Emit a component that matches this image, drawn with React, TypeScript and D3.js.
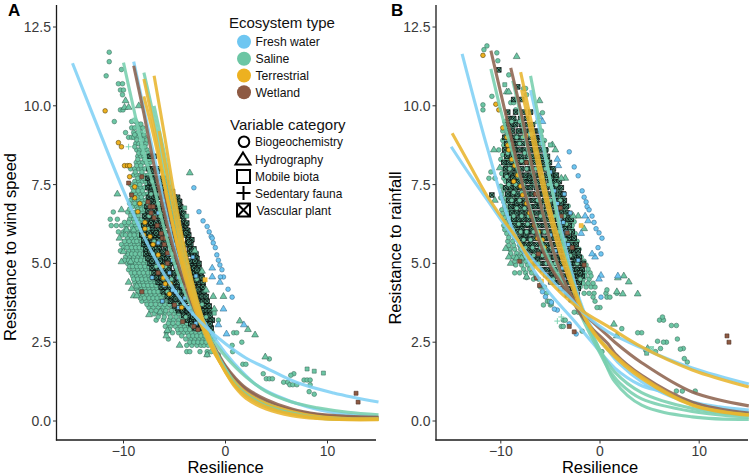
import React from "react";
import * as d3 from "d3";

type Row = number[]; // [y, x1, x2, ...]
type Curve = [number, number][];

const ecosystemTypes = ["Fresh water", "Saline", "Terrestrial", "Wetland"];
const ecosystemColors = ["#6EC6F1", "#6CC6A4", "#EDB120", "#8E5A43"];
const curveColors = ["#7FD0F5", "#78CFAE", "#E8B52F", "#8E6450"];
const variableCategories = ["Biogeochemistry", "Hydrography", "Mobile biota", "Sedentary fauna", "Vascular plant"];
const xTicks = [-10, 0, 10];
const yTicks = [0, 2.5, 5, 7.5, 10, 12.5];

// ---------- Panel A points ----------
const coreA: Row[] = [
  [8.4,-7.4,-7],[8,-7.5,-7.1,-6.6],[7.7,-7.6,-7.2,-6.9,-6.4,-6],[7.4,-7.6,-7.2,-6.8,-6.4,-6.1,-5.6],
  [7.1,-7.5,-7,-6.6,-6.2,-5.8,-5.4,-5,-4.7],[6.8,-7.7,-7.2,-6.8,-6.4,-6,-5.6,-5.2,-4.8,-4.4],
  [6.5,-7.9,-7.4,-7,-6.6,-6.2,-5.8,-5.4,-5,-4.6,-4.2],[6.2,-8,-7.5,-7.1,-6.7,-6.3,-5.9,-5.5,-5.1,-4.7,-4.3,-3.9],
  [5.9,-8.2,-7.7,-7.3,-6.9,-6.5,-6,-5.6,-5.2,-4.8,-4.4,-4,-3.6],[5.6,-8,-7.5,-7.1,-6.6,-6.2,-5.8,-5.4,-5,-4.6,-4.2,-3.8,-3.4],
  [5.3,-7.8,-7.3,-6.9,-6.4,-6,-5.6,-5.2,-4.8,-4.4,-4,-3.6,-3.2,-2.9],[5,-7.4,-7,-6.5,-6.1,-5.7,-5.3,-4.9,-4.5,-4.1,-3.7,-3.3,-2.9,-2.6],
  [4.7,-7,-6.6,-6.2,-5.8,-5.4,-5,-4.6,-4.2,-3.8,-3.4,-3,-2.7,-2.4],[4.4,-6.6,-6.2,-5.8,-5.4,-5,-4.6,-4.2,-3.8,-3.4,-3,-2.6,-2.2],
  [4.1,-6.1,-5.7,-5.3,-4.9,-4.5,-4.1,-3.7,-3.3,-2.9,-2.5,-2.1],[3.8,-5.4,-5,-4.6,-4.2,-3.8,-3.4,-3,-2.6,-2.2,-1.8],
  [3.5,-4.6,-4.2,-3.8,-3.4,-3,-2.6,-2.2,-1.8,-1.5],[3.2,-3.7,-3.3,-2.9,-2.5,-2.1,-1.7,-1.3],[2.95,-3,-2.6,-2.2,-1.8,-1.4],
  [7.92,-7.3,-6.7],[7.57,-7.4,-6.9,-6.2,-5.8],[7.28,-7.3,-6.7,-6.3,-5.7,-5.2],[7.22,-6.9,-6.1,-5.5],[6.97,-7.3,-6.8,-6.1,-5.6,-4.9,-4.5],[6.88,-7,-6.3,-5.4,-4.6],
  [6.67,-7.6,-7,-6.5,-5.9,-5.3,-4.7,-4.3],[6.58,-7.2,-6.3,-5.7,-4.9,-4.1],[6.36,-7.7,-7.2,-6.5,-6,-5.3,-4.8,-4.1],[6.28,-7.3,-6.8,-5.7,-5.2,-4.5,-3.8],
  [6.05,-7.9,-7.2,-6.6,-6.1,-5.4,-4.9,-4.2,-3.7],[5.97,-7.5,-6.8,-5.8,-5,-4.5,-3.9],[5.75,-8,-7.3,-6.7,-6.2,-5.5,-4.9,-4.4,-3.7,-3.3],[5.67,-7.7,-6.9,-6,-5.1,-4.5,-3.6],
  [5.46,-7.8,-7.2,-6.5,-5.9,-5.3,-4.7,-4.1,-3.5,-3.1],[5.38,-7.4,-6.7,-6.1,-5.1,-4.3,-3.3],[5.16,-7.6,-7,-6.2,-5.7,-5,-4.3,-3.9,-3.1,-2.8],[5.07,-7.2,-6.4,-5.5,-4.7,-3.5,-3],
  [4.85,-7.2,-6.7,-6,-5.5,-4.8,-4.3,-3.5,-3.1,-2.6],[4.78,-6.4,-5.6,-4.4,-3.7,-2.8],[4.55,-6.8,-6.3,-5.7,-5.1,-4.4,-3.9,-3.2,-2.7,-2.3],[4.48,-6,-5.2,-4,-2.9],
  [4.25,-6.3,-5.9,-5.2,-4.7,-4.3,-3.6,-3.1,-2.6,-2.2],[4.17,-5.5,-4.8,-3.5,-2.7],[3.95,-5.7,-5.2,-4.7,-4.3,-3.6,-3.1,-2.7,-2.3,-1.9],[3.87,-4.9,-3.9,-2.9],
  [3.65,-5,-4.4,-4,-3.3,-2.8,-2.4,-2,-1.6],[3.57,-4.7,-3.7,-2.6],[3.35,-4.1,-3.6,-3.1,-2.7,-2.3,-1.9,-1.5],[3.08,-3.4,-2.8,-2.4,-1.9,-1.5],[3.3,-3.2,-2.2],
];
const salineOverlayA: Row[] = [
  [7.6,-7.2],[7.2,-7.3,-6.5],[6.9,-7.6,-6.6],[6.5,-7.5,-6.9,-6.4],[6.1,-7.6,-5.2],[5.7,-7,-6.5,-4.7],[5.3,-7.1,-5.2,-4.2],[4.9,-6.8,-5.9,-3.9],[4.5,-6.1,-5.3,-3.7,-2.8],
  [4.1,-5.7,-4.7,-3.1],[3.7,-4.8,-4.1,-2.9,-2.3],[3.3,-3.9,-2.6,-1.9],[3,-3.2,-2.1],
];
const salineCirclesA: Row[] = [
  [11.7,-11.4],[11.4,-11.4],[11.15,-10.2],[10.95,-11.7],[10.7,-10.5,-10.1],[10.5,-10.3,-10],[10.35,-10.1],[9.87,-10.3,-10.05],[9.5,-10.9,-9.2,-8.8],
  [9.3,-9.2,-8.9,-8.4,-8.1],[9.15,-9.8,-9,-8.6,-8.2],[9,-9.5,-9.2,-9,-8.7,-8.3,-7.9],[8.8,-8.8,-8.5,-8.2,-7.8],[8.6,-8.7,-8.4,-8.05,-7.7],
  [8.4,-8.6,-8.3,-8,-7.6],[8.2,-8.75,-8.45,-8.1,-7.75,-7.4],[8,-9.3,-8.9,-8.5,-8.2,-7.9,-7.5],[7.8,-9,-8.7,-8.35,-8,-7.6,-7.2],[7.6,-8.9,-8.5,-8.15,-7.8,-7.45],
  [7.4,-9.1,-8.6,-8.3,-7.95,-7.5,-7.1],[7.2,-9.2,-8.8,-8.4,-8,-7.65,-7.3,-6.9],[7,-9.3,-8.9,-8.5,-8.15,-7.8,-7.4,-7],[6.8,-9.1,-8.7,-8.3,-7.95,-7.5,-7.1],
  [6.63,-11,-9.6,-9.2,-8.8,-8.45,-8.1,-7.7],[6.4,-11.3,-10.6,-9.4,-9,-8.6,-8.2,-7.85,-7.4],[6.2,-11.2,-10.7,-10.2,-9.7,-9.2,-8.8,-8.4,-8,-7.6],
  [6,-10.5,-10,-9.4,-9,-8.6,-8.25,-7.8,-7.4,-6.9],[5.8,-9.6,-9.2,-8.8,-8.4,-8,-7.5,-7.1],[5.6,-10.2,-9.7,-9.3,-8.9,-8.55,-8.15,-7.7,-7.3,-6.9],
  [5.4,-10.3,-9.5,-9.1,-8.7,-8.35,-7.95,-7.5,-7.1,-6.7],[5.2,-9.8,-9.4,-9,-8.6,-8.2,-7.8,-7.35,-6.95,-6.5],[5,-9.6,-9.2,-8.85,-8.45,-8,-7.6,-7.2,-6.7],
  [4.8,-9.5,-9,-8.6,-8.2,-7.8,-7.4,-7,-6.5,-6.1],[4.6,-9.1,-8.7,-8.3,-7.9,-7.5,-7.1,-6.7,-6.3,-5.9],[4.4,-8.9,-8.5,-8.1,-7.7,-7.3,-6.9,-6.5,-6.1,-5.7],
  [4.2,-8.7,-8.3,-7.9,-7.5,-7.1,-6.7,-6.3,-5.9,-5.4],[4,-8.5,-8.1,-7.7,-7.3,-6.9,-6.45,-6,-5.6,-5.1],[3.8,-8.2,-7.8,-7.3,-6.9,-6.5,-6.1,-5.6,-5.2,-4.7,-2.7,-2.2],
  [3.6,-7.5,-7.1,-6.6,-6.1,-5.7,-5.2,-4.8,-4.3,-3.8,-2.5,-2],[3.4,-7,-6.5,-6,-5.5,-5,-4.6,-4.1,-3.7,-3.3,-2.9,-2.4,-1.9],
  [3.2,-6.8,-6.1,-5.5,-5.1,-4.6,-4.1,-3.8,-3.4,-3,-2.6,-2.2,-1.8,-0.7],[3,-5.9,-5.4,-4.9,-4.4,-4,-3.6,-3.2,-2.8,-2.4,-2,-1.6],
  [2.8,-5.8,-5.2,-4.6,-4.1,-3.7,-3.3,-2.9,-2.5,-2.1,-1.7,-1.3,0.8,1.1],[2.6,-5.6,-3.9,-3.4,-3,-2.6,-2.2,-1.9,-1.5,-1.1],[2.4,-3.8,-3.3,-2.8,-2.4,-2.1,-1.7,-1.3,0.65],
  [2.5,1.6],[2.2,-3.8,-3.5,-2.5,-1.8,-1.4,0.7],[2.1,-1.8,-0.7],[1.97,4.3],[1.8,1.7,2],[1.5,3.7,6.7],[1.45,6.4],[1.34,4,4.3,4.6],[1.3,7.7,8,8.3],
  [1.23,5.7,6.1],[1.15,6.3,6.6,7,8.3],[0.93,8.2],[0.85,8.7],
  [9.42,-8.6,-8.3],[9.08,-8.9,-8.4,-8],[8.92,-8.7,-8.1,-7.7],[8.7,-8.9,-8.25,-7.9],[8.5,-8.5,-8.15,-7.6],[8.3,-8.6,-7.95,-7.5],[8.1,-8.7,-8.3,-7.6],[7.9,-8.85,-8.2,-7.4],
  [7.7,-8.6,-8.05,-7.5,-7.2],[7.5,-9.3,-8.8,-8.4,-7.7,-7.3],[7.3,-9,-8.55,-8.15,-7.4],[7.1,-9.1,-8.65,-8.25,-7.6,-7.1],[6.9,-9.4,-8.9,-8.45,-8,-7.3,-6.95],[6.72,-9.4,-8.6,-8.2,-7.9],
  [6.52,-9.3,-8.95,-8.55,-8,-7.6],[6.3,-9.9,-9.5,-8.95,-8.5,-8.05,-7.7],[6.1,-9.75,-9.1,-8.7,-8.2,-7.7],[5.9,-10.1,-9.8,-9.35,-8.95,-8.5,-8.1,-7.65,-7.2],[5.7,-9.9,-9.45,-9,-8.7,-8.25,-7.85,-7.4],
  [5.5,-10,-9.65,-9.2,-8.8,-8.45,-8.1,-7.6,-7.2,-6.8],[5.3,-9.6,-9.2,-8.85,-8.4,-8.05,-7.6,-7.2,-6.8],[5.1,-9.9,-9.5,-9.1,-8.7,-8.3,-7.9,-7.4,-7.05,-6.6],[4.9,-9.4,-9.1,-8.7,-8.35,-7.9,-7.5,-7.1,-6.6,-6.3],
  [4.7,-9.25,-8.9,-8.45,-8.05,-7.6,-7.25,-6.85,-6.4,-6],[4.5,-9,-8.6,-8.2,-7.8,-7.4,-7,-6.6,-6.2,-5.8],[4.3,-8.8,-8.4,-8,-7.6,-7.2,-6.8,-6.4,-6,-5.6],[4.1,-8.6,-8.2,-7.8,-7.4,-7,-6.6,-6.2,-5.8,-5.3],
  [3.9,-8.35,-7.95,-7.5,-7.1,-6.7,-6.3,-5.8,-5.4,-4.9],[3.7,-7.7,-7.3,-6.85,-6.4,-5.95,-5.5,-5,-4.5,-4.1],[3.5,-7.3,-6.8,-6.3,-5.85,-5.3,-4.9,-4.4,-3.9,-3.5,-3.1,-2.7,-2.2],
  [3.3,-6.6,-6,-5.4,-4.85,-4.3,-3.9,-3.5,-3.2,-2.8,-2.4,-2],[3.1,-5.6,-5.15,-4.65,-4.2,-3.8,-3.4,-3,-2.6,-2.2,-1.8],[2.9,-5.5,-4.7,-4.35,-3.9,-3.5,-3.1,-2.7,-2.3,-1.9,-1.5],
  [2.7,-4.3,-3.6,-3.2,-2.8,-2.4,-2,-1.7,-1.3],[2.5,-3.5,-3.1,-2.7,-2.3,-1.9,-1.5],
];
const salineTrianglesA: Row[] = [
  [10.16,-9.8],[9.95,-9.9,-9.5],[10,-8.5],[7.87,-3.5],[7.2,-10.6],[6.7,-10.2],[6.06,-9.7,-9],[5.8,-10.4],[5.37,-10],[5.05,-10.2,-9.3],
  [4.4,-9.5],[4.28,-8.7],[4.2,-9.2],[3.97,-9,-8.7],[3.46,-6.4],[3.37,-7.5],[2.87,-5.7],[2.7,-5.8],[2.4,-4.5],[2.1,-1.8],[3.95,-0.2,-1.2],[4.15,-1.9],
  [5.4,-3],[4.75,-2.3],[3.55,-1.1],[3.17,1.4],[2.9,2.2],[2.73,2.9],[2.03,3.9],
];
const salineSquaresA: Row[] = [[1.65,8],[1.58,8.7],[1.52,9.6],[6.76,-4],[6.5,-3.8],[3.42,-1.1]];
const salinePlusA: Row[] = [[8.7,-9.5],[7.9,-6.2]];
const salineCrossA: Row[] = [[9.55,-8.9],[9.2,-7.9]];
const freshCirclesA: Row[] = [
  [7.4,-3.1],[6.64,-2.6],[6.35,-2.2],[6.17,-1.8],[6,-1.6],[5.85,-1.4],[5.8,-1.3],[5.65,-1.2],[5.5,-1],[5.27,-0.85],[5.1,-0.7],[4.95,-0.55],[4.8,-0.35],[4.57,-0.2,-0.5],[4.18,0.25],[3.93,0.65],
];
const freshTrianglesA: Row[] = [[4.85,-1.3],[4.57,-1.3],[4.4,-0.55],[3.55,-0.2],[3.05,1.8],[3.05,-0.7],[2.76,0.1]];
const freshSquaresA: Row[] = [
  [7,-6.1],[6.6,-6.6],[6.2,-5.4],[5.9,-5.6],[5.65,-6.6],[5.6,-4.9],[5.3,-5.6,-4.5],[5.1,-5.2],[4.9,-4.9,-3.7],[4.7,-5.5],[4.55,-7.2,-4.6,-4],[4.3,-4.3,-6],
  [4.1,-4.9,-3.4],[3.9,-4,-3.1],[3.6,-4.6,-3.5],[3.4,-3.2],[3.1,-2.9],[5.2,-3.2],[4.6,-2.9],[3.8,-6.2],[4.15,-5.2],
];
const terrestrialCirclesA: Row[] = [
  [9.84,-11.8],[8.83,-10.5],[8.7,-10.2],[8.1,-9.9,-9.6,-9.4],[7.75,-9.4],[7.43,-8.9],[7.08,-8.9],[6.9,-8.4],[6.64,-8.6],[6.3,-7.9],[6.1,-7.9],[5.85,-7.4],[5.6,-7.1],
  [5.27,-6.6],[4.9,-6.2],[4.54,-6.1],[4.35,-5.9,-5.4],[4.03,-5.5],[3.6,-4.3],[5.9,-8],
];
const terrestrialCrossA: Row[] = [[4.48,-2]];
const wetlandSquaresA: Row[] = [
  [7.75,-8.2],[7.55,-9.5],[7.17,-9.2],[6.95,-7.6],[6.8,-7.4,-7.1],[6.6,-7.3],[6.45,-7],[6.2,-6.7],[5.95,-6.3],[5.8,-6.2,-5.9],[5.6,-6],[5.33,-5.7],[5,-5.7],[4.7,-6.6],[4.1,-8.2],[3.68,-5],[3.15,-4.2],[3,-3.1],[2.9,-2.7],[0.88,12.8],[0.6,13],
];

// ---------- Panel A curves ----------
const freshA1: Curve = [[-15,11.35],[-12.3,9.14],[-10,7.3],[-8,5.85],[-6,4.65],[-4,3.7],[-2,3],[0,2.45],[2,2],[4,1.68],[7,1.22],[10.6,0.89],[15,0.6]];
const freshA2: Curve = [[-9,11.4],[-8,9.9],[-7,8.4],[-6,6.9],[-5,5.5],[-4,4.5],[-3,3.7],[-2,3.1],[-1,2.6],[0,2.15],[1.5,1.6],[3,1.15],[5,0.8],[8,0.45],[11,0.25],[15,0.12]];
const salineA1: Curve = [[-10,11.37],[-9,9.9],[-8,8.5],[-7,7.4],[-6,6.1],[-5,5],[-4,4.1],[-3,3.4],[-2,2.85],[-1,2.45],[0,2.05],[1,1.7],[2,1.4],[4,0.93],[6.5,0.6],[9,0.42],[12,0.28],[15,0.2]];
const salineA2: Curve = [[-8,11.05],[-7,9.6],[-6,8],[-5,6.4],[-4,4.95],[-3,3.8],[-2,2.9],[-1,2.2],[0,1.65],[1,1.2],[2,0.88],[4,0.55],[6.5,0.28],[9,0.13],[12,0.07],[15,0.06]];
const salineA3: Curve = [[-7,10],[-6,8.5],[-5,6.9],[-4,5.3],[-3,4],[-2,3],[-1,2.25],[0,1.65],[1,1.15],[2,0.85],[4,0.48],[6.5,0.25],[9,0.1],[12,0.05],[15,0.05]];
const wetlandA1: Curve = [[-9,11.27],[-8,9.75],[-7,8.1],[-6,6.6],[-5,5.35],[-4,4.35],[-3,3.5],[-2,2.85],[-1,2.3],[0,1.75],[1,1.35],[2,1.05],[4,0.68],[6.5,0.38],[9,0.22],[12,0.15],[15,0.12]];
const wetlandA2: Curve = [[-6,7.3],[-5,5.9],[-4,4.7],[-3,3.7],[-2,2.9],[-1,2.25],[0,1.7],[1,1.3],[2,1],[4,0.62],[6.5,0.34],[9,0.2],[12,0.12],[15,0.1]];
const terrestrialA1: Curve = [[-8,10.85],[-7,9.3],[-6,7.6],[-5,6],[-4,4.6],[-3,3.55],[-2,2.75],[-1,2.1],[0,1.6],[1,1.2],[2,0.9],[4,0.55],[6.5,0.3],[9,0.15],[12,0.08],[15,0.07]];
const terrestrialA2: Curve = [[-7,10.95],[-6,9.1],[-5,7.15],[-4,5.45],[-3,4.1],[-2,3],[-1,2.2],[0,1.55],[1,1.1],[2,0.8],[4,0.45],[6.5,0.22],[9,0.1],[12,0.05],[15,0.05]];
const terrestrialA3: Curve = [[-8,10.3],[-7,9],[-6,7.5],[-5,6],[-4,4.75],[-3,3.7],[-2,2.85],[-1,2.15],[0,1.6],[1,1.15],[2,0.85],[4,0.5],[6.5,0.25],[9,0.12],[12,0.06],[15,0.06]];
const terrestrialA4: Curve = [[-6.5,9.2],[-6,8.3],[-5,6.6],[-4,5],[-3,3.85],[-2,2.9],[-1,2.15],[0,1.55],[1,1.05],[2,0.72],[4,0.38],[6.5,0.17],[9,0.08],[12,0.04],[15,0.04]];

// ---------- Panel B points ----------
const coreB: Row[] = [
  [10.6,-8.3],[10.2,-8.7,-7.9],[9.8,-9.3,-8.5,-7.7,-7],[9.4,-9.5,-9,-8.5,-7.9,-7.3,-6.8],[9,-9.6,-9.1,-8.6,-8,-7.5,-7,-6.5,-6],
  [8.6,-9.6,-9.1,-8.6,-8.1,-7.6,-7,-6.5,-6,-5.5],[8.2,-9.7,-9.2,-8.7,-8.2,-7.7,-7.1,-6.6,-6.1,-5.6,-5.1],[7.8,-9.5,-9,-8.5,-8,-7.5,-7,-6.5,-6,-5.4,-4.9,-4.4],
  [7.4,-9.5,-9,-8.5,-8,-7.5,-7,-6.4,-5.9,-5.4,-4.8,-4.3,-3.9],[7,-9.2,-8.7,-8.2,-7.7,-7.2,-6.7,-6.2,-5.6,-5.1,-4.6,-4.1,-3.6],
  [6.6,-8.9,-8.4,-7.9,-7.4,-6.9,-6.4,-5.9,-5.4,-4.9,-4.4,-3.9,-3.3],[6.2,-8.6,-8.1,-7.6,-7.1,-6.6,-6.1,-5.6,-5.1,-4.6,-4.1,-3.6,-3.1],
  [5.8,-8.1,-7.6,-7.1,-6.6,-6.1,-5.6,-5.1,-4.6,-4.1,-3.6,-3.1,-2.6],[5.4,-7.6,-7.1,-6.6,-6.1,-5.6,-5.1,-4.6,-4.1,-3.6,-3.1,-2.6,-2.2],
  [5,-6.5,-6,-5.5,-5,-4.5,-4,-3.5,-3,-2.5,-2,-1.7],[4.6,-5.2,-4.7,-4.2,-3.7,-3.2,-2.7,-2.2,-1.8],[4.2,-3.7,-3.2,-2.7,-2.2],[3.85,-2.9,-2.4],
  [7.17,-10.9],[11.14,-10.2],
  [9.6,-9.2,-8.7,-8,-7.4],[9.2,-9.3,-8.8,-8.2,-7.7,-7.1,-6.7,-6.2],[8.8,-9.4,-8.8,-8.3,-7.8,-7.2,-6.7,-6.2,-5.8],
  [8.4,-9.4,-8.9,-8.4,-7.9,-7.3,-6.8,-6.3,-5.8,-5.3],[8,-9.5,-8.9,-8.4,-7.9,-7.3,-6.8,-6.2,-5.7,-5.2,-4.7],[7.6,-9.2,-8.7,-8.2,-7.7,-7.2,-6.7,-6.2,-5.7,-5.1,-4.6,-4.1],
  [7.2,-9.3,-8.8,-8.3,-7.8,-7.3,-6.8,-6.2,-5.7,-5.1,-4.6,-4,-3.7],[6.8,-9,-8.5,-8,-7.5,-7,-6.5,-6,-5.4,-4.9,-4.3,-3.8,-3.4],
  [6.4,-8.7,-8.2,-7.7,-7.2,-6.7,-6.2,-5.7,-5.2,-4.7,-4.2,-3.7,-3.2,-2.9],[6,-8.3,-7.8,-7.3,-6.8,-6.3,-5.8,-5.3,-4.8,-4.3,-3.8,-3.3,-2.8],
  [5.6,-7.9,-7.4,-6.9,-6.4,-5.9,-5.4,-4.9,-4.4,-3.9,-3.4,-2.9,-2.4],[5.2,-7.1,-6.6,-6.1,-5.6,-5.1,-4.6,-4.1,-3.6,-3.1,-2.6,-2.1],
  [4.8,-5.8,-5.3,-4.8,-4.3,-3.8,-3.3,-2.8,-2.3,-1.8],[4.4,-4.6,-4.1,-3.6,-3.1,-2.6,-2.1],[4,-3.3,-2.8,-2.3],
  [6.92,-8.4,-7.6,-6.1,-5,-3.9],[6.1,-7.9,-6.9,-4.4,-3.5],[5.9,-7.5,-6.1,-3.1],[5.5,-7.2,-5.3,-2.8],[7.7,-8.8,-7.1,-4.9],[8.9,-8.9,-6.4],[5.1,-6.3,-4.3,-2.4],[4.7,-4.9,-3,-2],
];
const salineOverlayB: Row[] = [
  [9.5,-8.9,-8.1],[9,-9.2,-8.4,-7.8],[8.5,-9.3,-8.7,-7.6,-6.4],[8,-9.1,-8.2,-7.4,-6.5,-5.5],[7.5,-9.2,-8.5,-7.7,-6.4,-5.2,-4.4],[7,-8.9,-8.1,-7.4,-6.3,-5,-4],
  [6.5,-8.7,-7.9,-7.2,-6,-4.6,-3.6],[6,-8,-7.4,-6.7,-5.6,-4.2,-3.1],[5.5,-7.5,-6.8,-6,-4.9,-3.7,-2.9],[5,-6.2,-5.4,-4.5,-3.2,-2.3],[4.5,-4.7,-3.8,-2.8,-2],[4.1,-3.4,-2.6],
  [8.8,-9,-8.1,-6],[8.25,-8.9,-7.9,-5.3],[7.75,-9.4,-8.3,-5.8],[7.25,-8.7,-7.9,-4.7],[6.75,-8.4,-7.6,-4.3],[6.25,-8.2,-7.3,-3.4],[5.75,-7.7,-7,-3.5],[5.25,-6.7,-5.8,-3],
];
const salineCirclesB: Row[] = [
  [11.9,-11.4],[11.78,-11.7],[11.68,-10.4],[11.43,-10.3],[10.98,-9.2],[10.55,-7.7,-7.5],[10.35,-7.4],[10.3,-10.9],[10.03,-11.8],[10.1,-9,-8.7],[9.87,-11.8,-8.5],[9.78,-5.8],
  [9.5,-9.6,-9.1,-8.5,-7.9],[9.2,-9.8,-9.3,-8.8,-8.2,-7.5,-5.9],[8.9,-9.8,-9.2,-8.7,-8.1,-7.4,-6.5,-5.6],[8.6,-10.2,-9.5,-9,-8.4,-7.8,-6.9,-6.2,-5.4],
  [8.3,-10,-9.4,-8.9,-8.3,-7.6,-6.6,-5.9,-5.3],[8,-9.7,-9.2,-8.6,-8,-7.3,-6.3,-5.7,-5.1,-4.8],[7.9,-11],[7.7,-11.2,-10.6,-9.7,-9.2,-8.7,-8.2,-7.5,-6.6,-5.9,-5.4,-4.9,-4.4],
  [7.45,-10,-9.3,-8.8,-8.3,-7.7,-6.9,-6.3,-5.7,-5.1,-4.6,-4.2],[7.2,-9.9,-9.3,-8.8,-8.2,-7.6,-6.7,-6,-5.3,-4.8,-4.3,-3.8],[6.95,-9.7,-9.2,-8.7,-8.1,-7.4,-6.4,-5.8,-5.2,-4.6,-4.1,-3.6],
  [6.7,-9.9,-9.4,-8.9,-8.4,-7.8,-7.1,-5.8,-5,-4.4,-3.9,-3.5],[6.45,-9.6,-9.1,-8.6,-8.1,-7.5,-6.8,-5.6,-4.8,-4.2,-3.6,-3.1],[6.2,-9.7,-9.2,-8.7,-8.2,-7.7,-7.1,-5.3,-4.5,-3.9,-3.4,-2.8],
  [5.95,-9.4,-8.9,-8.4,-7.8,-7.3,-6.5,-4.2,-3.6,-3,-2.5],[5.7,-9.3,-8.8,-8.2,-7.7,-7,-3.9,-3.3,-2.8,-2.3],[5.45,-9.1,-8.6,-8,-7.4,-6.7,-3.6,-3.1,-2.6,-2.1],
  [5.2,-8.7,-8.2,-7.7,-7.1,-3.3,-2.9,-2.4,-1.9],[4.95,-8.5,-7.9,-7.3,-6.8,-2.8,-2.3,-1.8,-1.4],[4.7,-8.6,-8.1,-7.5,-6.9,-2.5,-2,-1.5,-1],[4.55,-7.4],[4.5,-6.7,-6.2,-2.2,-1.7,-1.1],
  [4.25,-6,-5.6,-2,-1.4,-0.9,-0.5],[4.05,-5.4,-1.6,-1.1,-0.6,0.6,1.7],[3.93,-0.7,0.7,1],[3.68,-5.7,-5],[3.6,0,-0.3],[3.45,-2.2,-2.6],[3.2,-3.7,-3.5],[3,-3.9,-3.7],[2.2,0.2],
  [4.16,0.7],[2.93,2.2],[2.8,4.2,3.8],[2.85,-1.8],[2.25,4.6,4.9],[2.53,5.8],[2.2,5.6],[3.2,6,6.4],[3.3,6.3],[3.03,7.7,7.2],[2.6,7.8],[2.5,6.7,6.4],[2.3,6.1,8.4],[2.28,8.1],[1.87,8.8],[1.98,8.5],
  [0.95,9.6,8.3,7.7],
  [9.35,-9.4,-8.8],[9.05,-9.5,-9,-8.4],[8.75,-9.7,-9.15,-8.6],[8.45,-9.8,-9.2,-8.7],[8.15,-9.5,-9,-8.4,-5.7,-5.2],[7.85,-9.9,-9.4,-8.9,-8.4,-5.2,-4.7],[7.6,-9.5,-9,-8.5,-5,-4.5],
  [7.33,-9.7,-9.1,-8.5,-4.7,-4.1],[7.08,-10,-9.5,-9,-8.4,-4.4,-3.8],[6.82,-9.6,-9.1,-8.6,-4.1,-3.6,-3.2],[6.58,-9.8,-9.3,-8.7,-8.2,-3.8,-3.3],[6.32,-9.5,-9,-8.5,-7.9,-3.7,-3.1,-2.6],
  [6.07,-9.6,-9.1,-8.5,-8,-3.3,-2.8],[5.82,-9.2,-8.6,-8,-7.5,-3.1,-2.6],[5.57,-9.2,-8.7,-8.1,-7.5,-3,-2.5],[5.32,-9,-8.4,-7.9,-7.3,-2.7,-2.2],[5.07,-8.6,-8,-7.5,-2.6,-2.1,-1.6],
  [4.82,-7.7,-7.1,-2.3,-1.8,-1.2],[4.6,-6.5,-2,-1.5,-0.9],[4.37,-1.7,-1.2,-0.7],[3.8,-5.3,-0.5],
];
const salineTrianglesB: Row[] = [
  [11.56,-8.4],[10.44,-9.4,-9.2],[10.16,-6.1],[9.5,-6.3],[8.76,-4.8],[8.6,-4.5],[8.6,-10.7],[8.03,-10.1],[7.7,-3.5,-3.9],[7,-10.6],[6.5,-2.2,-2.7],[5.47,-9.5],[5.2,-9.2],[5.17,-8.4,-7.9],[5,-9],[6.1,-1.6],
  [4.57,-7.4],[4.54,1.8],[4.6,2.4],[4.41,2.9],[4.03,3.8,2.3],[4.1,1.7],[3.07,1.4],[2.7,1.7],[2.3,4.8],
];
const salineSquaresB: Row[] = [[10.67,-9.6],[3.72,-4.9],[3.8,-5.1],[8.76,-5],[2.15,4.7]];
const salinePlusB: Row[] = [[3.17,-4.3],[3.3,-3.9]];
const salineCrossB: Row[] = [[9.1,-7],[2.3,5.2]];
const freshCirclesB: Row[] = [
  [8.54,-3.1],[8.06,-2.6],[7.78,-2.2],[7.3,-1.8],[7.1,-1.6],[6.95,-1.4],[6.8,-1.3],[6.7,-1.1],[6.5,-0.8],[6.3,-0.6],[6.1,-0.4],[5.97,-0.1],[5.8,0.2],[5.5,-0.2],[5.3,0.1],
  [4.3,-6],[4.1,-5.8],[3.94,-5.5],[3.77,-4.9],[3.52,-4.3],[3.55,-4.6],[3.08,-3.1],[2.76,-2.4],[3.93,0.1],
];
const freshTrianglesB: Row[] = [[9.5,-5.8],[9.65,-6.1],[8.1,-4.2],[8.3,-4.3],[6.5,-1.5],[6.35,-1.2],[5.95,-1.9],[5.2,-0.5],[5.3,-0.8],[4.62,0.1],[4.5,-0.1],[4.6,1.8]];
const freshSquaresB: Row[] = [
  [7.9,-5],[7.3,-4.6],[6.9,-4.3],[6.44,-4],[6.3,-3.7],[6,-3.4],[5.6,-3.2],[5.1,-2.2],[4.85,-3.8],[4.63,-5.5],[5,-5.1],[4.4,-5],[5.4,-4.5],[5.9,-5],[5.2,-3.3],[4.5,-3.6],[4.2,-4],[7.2,-3.6],[6.6,-3],
];
const terrestrialCirclesB: Row[] = [
  [11.6,-11.8],[10.05,-10.5],[9.87,-10.2],[9.3,-9.8],[9,-9.4],[8.75,-9.3],[8.6,-9.2],[8.3,-8.9],[8.1,-8.6],[7.8,-8.3],[7.45,-8],[7.17,-7.8],[6.9,-7.4],[6.6,-7.1],[6.5,-6.9],[6.2,-6.6],[6,-6.2],[5.75,-5.8],[5.5,-5.6],[5.8,-6.3],[7.6,-8.7],
];
const terrestrialSquaresB: Row[] = [[6.2,-1.9],[4.86,-6.8],[4.44,-5.9],[9.05,-7.5]];
const wetlandSquaresB: Row[] = [[7.2,-6.5],[6.76,-4],[6.5,-3.9],[5.97,-3.3],[5.5,-2.8],[5.07,-8.1],[4.95,-1.6],[4.54,-6.4],[4.3,-6.1],[3,-3.1],[2.83,-2.6],[2.7,12.8],[2.5,13],[5.3,-6.2],[8.2,-7.4]];

// ---------- Panel B curves ----------
const freshB1: Curve = [[-13.9,11.65],[-11.3,8.6],[-8.9,6.16],[-5.9,4.4],[-2.5,3.14],[-0.8,2.5],[1.5,1.68],[4,1.15],[6.3,0.92],[9.3,0.6],[12,0.45],[15,0.35]];
const freshB2: Curve = [[-15,8.7],[-13,7.75],[-11,6.85],[-9,5.95],[-7,5.2],[-5,4.5],[-3,3.9],[-1.8,3.47],[0.8,2.83],[4.2,2.32],[9.3,1.68],[15,1.17]];
const freshB3: Curve = [[-7,10.5],[-6,9.1],[-5,7.6],[-4,6.2],[-3,4.9],[-2,3.8],[-1,3.05],[0.8,2.25],[2,1.8],[4.2,1.25],[7,0.8],[9.3,0.55],[12,0.38],[15,0.28]];
const salineB1: Curve = [[-11,11.17],[-10,9.85],[-9,8.7],[-8,7.7],[-7,6.7],[-6,5.75],[-5,5.05],[-4,4.5],[-3,4],[-2,3.5],[-1,2.9],[0.2,2.1],[1.5,1.24],[4.2,0.5],[9.3,0.13],[15,0.05]];
const salineB2: Curve = [[-8.8,10.8],[-8,9.7],[-7,8.2],[-6,6.9],[-5,5.7],[-4,4.7],[-3,4],[-2,3.4],[-1,2.75],[0,2.15],[0.8,1.68],[2,1.2],[4.2,0.7],[9.3,0.3],[15,0.12]];
const salineB3: Curve = [[-7,10.95],[-6,9.3],[-5,7.6],[-4,6],[-3,4.7],[-2,3.7],[-1,2.9],[0,2.25],[1.5,1.55],[4.2,0.9],[9.3,0.4],[15,0.2]];
const wetlandB1: Curve = [[-11,11.75],[-10,10.4],[-9,9.05],[-8.3,8.1],[-7,6.6],[-6,5.6],[-5,4.9],[-4,4.4],[-3,3.95],[-2,3.4],[-1,3],[0.8,2.45],[1.5,2.15],[4.2,1.45],[9.3,0.6],[15,0.25]];
const wetlandB2: Curve = [[-9,11.2],[-8,9.85],[-7,8.3],[-6,6.9],[-5,5.7],[-4,4.75],[-3,4.05],[-2,3.6],[-1,3.22],[0.8,2.7],[1.5,2.5],[4.2,1.85],[9.3,0.92],[15,0.48]];
const terrestrialB1: Curve = [[-14.9,9.13],[-13,8.05],[-11.5,7.2],[-10,6.5],[-8.3,5.75],[-6.9,5.05],[-5,4.4],[-3.8,4.02],[-1.8,3.5],[0.8,3],[4.2,2.35],[9.3,1.62],[15,1.08]];
const terrestrialB2: Curve = [[-8,11.07],[-7,9.6],[-6,8.1],[-5,6.7],[-4,5.6],[-3,4.6],[-2,3.7],[-1,3],[0.8,2.3],[4.2,1.4],[9.3,0.52],[15,0.2]];
const terrestrialB3: Curve = [[-7.9,10.5],[-7,9.2],[-6,7.7],[-5,6.4],[-4,5.3],[-3,4.4],[-2,3.6],[-1,2.95],[0.8,2.25],[4.2,1.35],[9.3,0.5],[15,0.18]];

// ---------- drawing ----------
type Shape = "circle" | "triangle" | "square" | "plus" | "cross" | "crossLarge";
const circlePath = d3.symbol(d3.symbolCircle, 17)()!;
const trianglePath = d3.symbol(d3.symbolTriangle, 20)()!;
const squarePath = d3.symbol(d3.symbolSquare, 16)()!;
const crossPath = squarePath + "M-2,-2L2,2M-2,2L2,-2";
const crossLargePath = d3.symbol(d3.symbolSquare, 21)()! + "M-2.3,-2.3L2.3,2.3M-2.3,2.3L2.3,-2.3";
const plusPath = "M-3,0H3M0,-3V3";
const paths: Record<Shape, string> = { circle: circlePath, triangle: trianglePath, square: squarePath, plus: plusPath, cross: crossPath, crossLarge: crossLargePath };

function Points({ rows, shape, fill, x, y, stroke = "#1a1a1a", sw = 0.55 }: any) {
  const pts = (rows as Row[]).flatMap((r) => r.slice(1).map((v) => [v, r[0]]));
  return (
    <g>
      {pts.map(([px, py], i) => (
        <path
          key={i}
          transform={`translate(${x(px)},${y(py)})`}
          d={paths[shape as Shape]}
          fill={shape === "plus" ? "none" : fill}
          stroke={shape === "plus" ? fill : stroke}
          strokeWidth={shape === "plus" ? 1 : sw}
        />
      ))}
    </g>
  );
}

function Panel({ tag, tagX, right, yLabel, yLabelX, yLabelY, xLeft, xZero, xTen, layers, curves }: any) {
  const x = d3.scaleLinear().domain([0, 10]).range([xZero, xTen]);
  const y = d3.scaleLinear().domain([0, 12.5]).range([421, 27]);
  const line = d3.line<[number, number]>().x((d) => x(d[0])).y((d) => y(d[1])).curve(d3.curveCatmullRom.alpha(0.5));
  const axisColor = "#1a1a1a";
  return (
    <g fontFamily="'Liberation Sans', Arial, sans-serif">
      <text x={tagX} y={16} fontSize={17} fontWeight="bold" fill="#000">{tag}</text>
      {layers.map((l: any, i: number) => <Points key={i} {...l} x={x} y={y} />)}
      <g fill="none" strokeLinecap="butt">
        {curves.map(([c, k]: [Curve, number], i: number) => (
          <path key={i} d={line(c)!} stroke={curveColors[k]} strokeWidth={3.1} opacity={0.88} />
        ))}
      </g>
      <line x1={xLeft} x2={xLeft} y1={5} y2={440.5} stroke={axisColor} strokeWidth={1.3} />
      <line x1={xLeft - 0.6} x2={right} y1={440} y2={440} stroke={axisColor} strokeWidth={1.3} />
      {yTicks.map((t) => (
        <g key={t}>
          <line x1={xLeft - 3.5} x2={xLeft} y1={y(t)} y2={y(t)} stroke="#333" strokeWidth={1} />
          <text x={xLeft - 5.5} y={y(t) + 5} textAnchor="end" fontSize={14} fill="#3a3a3a">{t.toFixed(1)}</text>
        </g>
      ))}
      {xTicks.map((t) => (
        <g key={t}>
          <line x1={x(t)} x2={x(t)} y1={440} y2={443.5} stroke="#333" strokeWidth={1} />
          <text x={x(t)} y={456} textAnchor="middle" fontSize={14} fill="#3a3a3a">{t < 0 ? "\u2212" + Math.abs(t) : t}</text>
        </g>
      ))}
      <text x={xZero} y={473} textAnchor="middle" fontSize={16.5} fill="#000">Resilience</text>
      <text transform={`translate(${yLabelX},${yLabelY}) rotate(-90)`} textAnchor="middle" fontSize={16.5} fill="#000">{yLabel}</text>
    </g>
  );
}

function Legend() {
  const ys = [41.7, 58.7, 75.5, 92.3];
  const vy = [141.7, 159, 176.5, 193, 210];
  const st = { fill: "none", stroke: "#000", strokeWidth: 2 };
  return (
    <g fontFamily="'Liberation Sans', Arial, sans-serif" fill="#111">
      <text x={229} y={28} fontSize={15}>Ecosystem type</text>
      {ecosystemTypes.map((t, i) => (
        <g key={t}>
          <circle cx={244} cy={ys[i]} r={7} fill={ecosystemColors[i]} />
          <text x={255.5} y={ys[i] + 4.3} fontSize={12.2}>{t}</text>
        </g>
      ))}
      <text x={230} y={130} fontSize={15}>Variable category</text>
      <circle cx={244} cy={vy[0]} r={5.3} {...st} />
      <path d={`M243,${vy[1] - 6.5}L250.5,${vy[1] + 5.5}H235.5Z`} {...st} />
      <rect x={237} y={vy[2] - 6.5} width={13} height={13} {...st} />
      <path d={`M243.5,${vy[3] - 7}V${vy[3] + 7}M236.5,${vy[3]}H250.5`} {...st} />
      <path d={`M237,${vy[4] - 6.5}h13v13h-13zM237,${vy[4] - 6.5}l13,13M250,${vy[4] - 6.5}l-13,13`} {...st} />
      {variableCategories.map((t, i) => (
        <text key={t} x={i === 4 ? 256.5 : 255} y={vy[i] + 4.5} fontSize={11.9}>{t}</text>
      ))}
    </g>
  );
}

export default function App() {
  const [fresh, saline, terr, wet] = ecosystemColors;
  const coreStyle = { shape: "crossLarge", fill: "#4f9a80", stroke: "#060606", sw: 0.75 };
  const layersA = [
    { rows: salineCirclesA, shape: "circle", fill: saline, stroke: "#3a6b5a" },
    { rows: coreA, ...coreStyle },
    { rows: salineOverlayA, shape: "circle", fill: saline, stroke: "#1a1a1a" },
    { rows: salineTrianglesA, shape: "triangle", fill: saline, stroke: "#2f5a4b" },
    { rows: salineSquaresA, shape: "square", fill: saline, stroke: "#3a6b5a" },
    { rows: salineCrossA, shape: "cross", fill: "#9adfc6", stroke: "#6CC6A4", sw: 0.6 },
    { rows: salinePlusA, shape: "plus", fill: "#7fd4b4" },
    { rows: freshCirclesA, shape: "circle", fill: fresh, stroke: "#32668a" },
    { rows: freshTrianglesA, shape: "triangle", fill: fresh, stroke: "#32668a" },
    { rows: freshSquaresA, shape: "square", fill: fresh, stroke: "#111" },
    { rows: terrestrialCirclesA, shape: "circle", fill: terr, stroke: "#4d3a05" },
    { rows: terrestrialCrossA, shape: "cross", fill: "#F6C04A", stroke: "#EDB120", sw: 0.6 },
    { rows: wetlandSquaresA, shape: "square", fill: wet, stroke: "#4a2e22" },
  ];
  const curvesA: [Curve, number][] = [
    [freshA2, 0], [salineA1, 1], [wetlandA1, 3], [wetlandA2, 3], [salineA2, 1], [terrestrialA3, 2], [terrestrialA1, 2], [salineA3, 1], [terrestrialA4, 2], [terrestrialA2, 2], [freshA1, 0],
  ];
  const layersB = [
    { rows: salineCirclesB, shape: "circle", fill: saline, stroke: "#3a6b5a" },
    { rows: coreB, ...coreStyle },
    { rows: salineOverlayB, shape: "circle", fill: saline, stroke: "#1a1a1a" },
    { rows: salineTrianglesB, shape: "triangle", fill: saline, stroke: "#2f5a4b" },
    { rows: salineSquaresB, shape: "square", fill: saline, stroke: "#3a6b5a" },
    { rows: salineCrossB, shape: "cross", fill: "#9adfc6", stroke: "#6CC6A4", sw: 0.6 },
    { rows: salinePlusB, shape: "plus", fill: "#7fd4b4" },
    { rows: freshCirclesB, shape: "circle", fill: fresh, stroke: "#32668a" },
    { rows: freshTrianglesB, shape: "triangle", fill: fresh, stroke: "#32668a" },
    { rows: freshSquaresB, shape: "square", fill: fresh, stroke: "#111" },
    { rows: terrestrialCirclesB, shape: "circle", fill: terr, stroke: "#4d3a05" },
    { rows: terrestrialSquaresB, shape: "square", fill: "#F6C04A", stroke: "#EDB120" },
    { rows: wetlandSquaresB, shape: "square", fill: wet, stroke: "#4a2e22" },
  ];
  const curvesB: [Curve, number][] = [
    [freshB1, 0], [freshB3, 0], [salineB1, 1], [salineB2, 1], [wetlandB1, 3], [wetlandB2, 3], [salineB3, 1], [terrestrialB3, 2], [terrestrialB2, 2], [freshB2, 0], [terrestrialB1, 2],
  ];
  return (
    <svg width={750} height={475} style={{ position: "absolute", left: 0, top: 0, background: "#fff" }}>
      <Panel tag="A" tagX={8} right={376} yLabel="Resistance to wind speed" yLabelX={15.5} yLabelY={247} xLeft={56.5} xZero={225.5} xTen={327.5} layers={layersA} curves={curvesA} />
      <Panel tag="B" tagX={391} right={748} yLabel="Resistance to rainfall" yLabelX={401} yLabelY={248} xLeft={436} xZero={600} xTen={699.2} layers={layersB} curves={curvesB} />
      <Legend />
    </svg>
  );
}
